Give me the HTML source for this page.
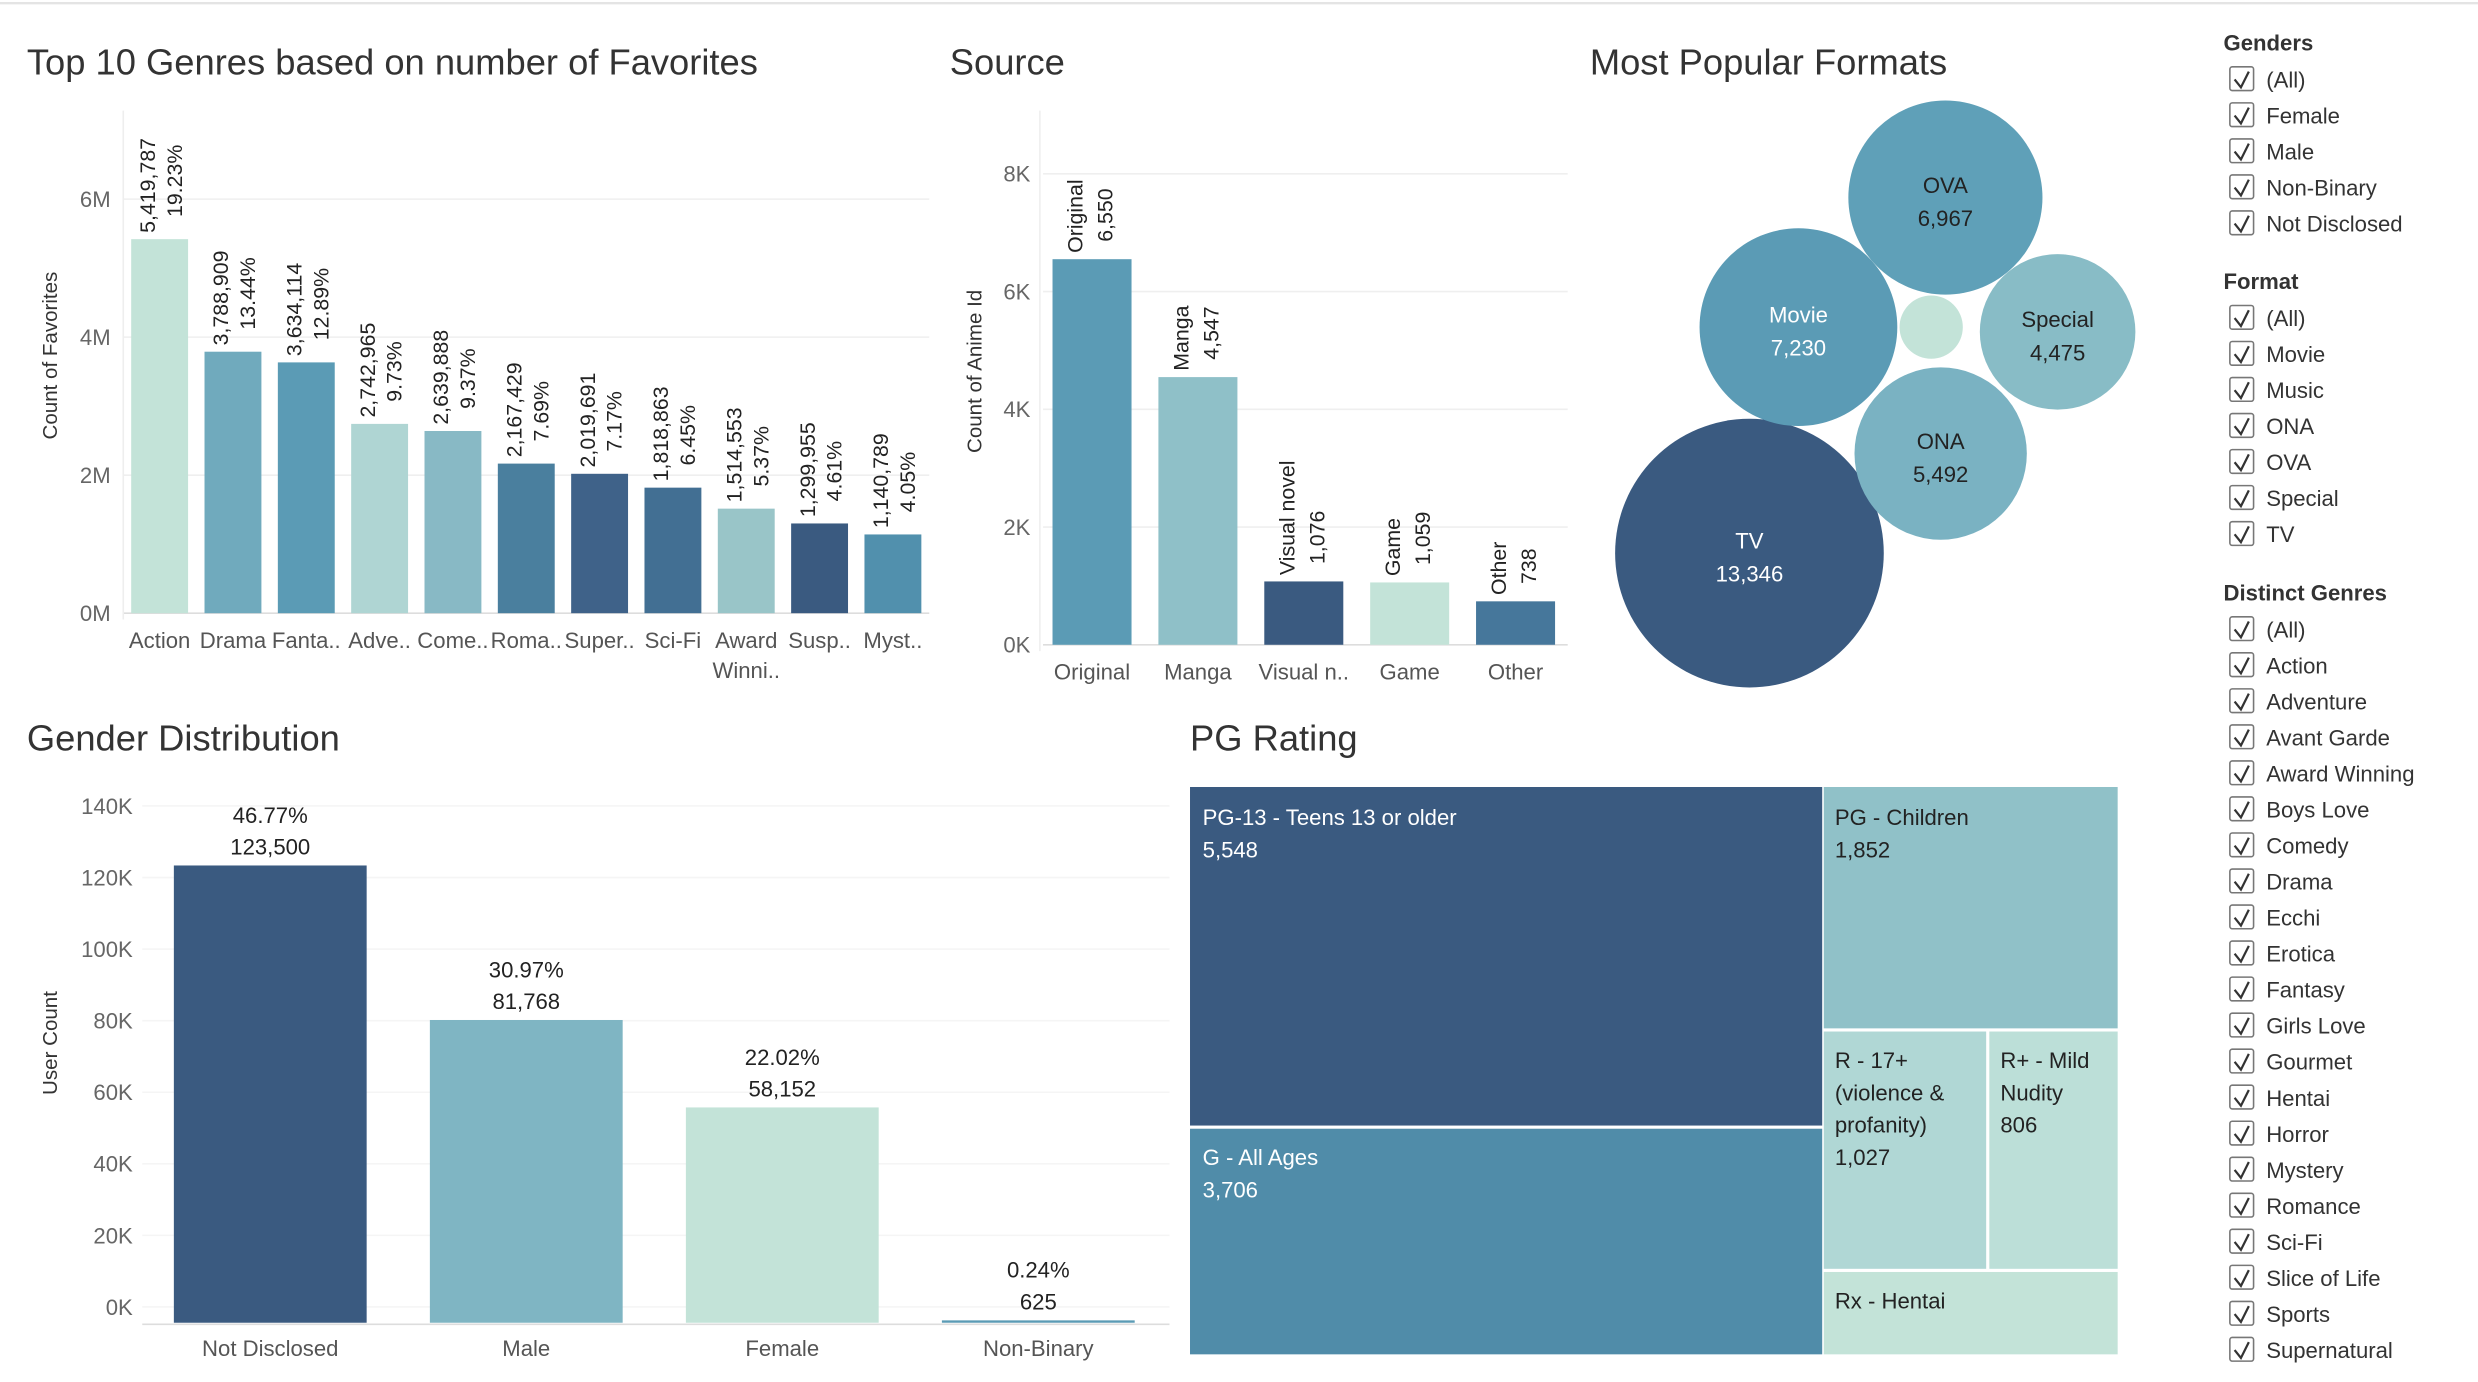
<!DOCTYPE html>
<html><head><meta charset="utf-8"><style>
html,body{margin:0;padding:0;background:#fff;width:2478px;height:1382px;overflow:hidden}
svg{display:block;font-family:"Liberation Sans",sans-serif}
</style></head><body>
<svg id="s" width="2478" height="1382" viewBox="0 0 1568 874.5" xmlns="http://www.w3.org/2000/svg">
<line x1="0" y1="2" x2="1568" y2="2" stroke="#e4e4e4" stroke-width="1.5"/>
<text x="17" y="47" font-size="23" fill="#333">Top 10 Genres based on number of Favorites</text>
<text x="601" y="47" font-size="23" fill="#333">Source</text>
<text x="1006" y="47" font-size="23" fill="#333">Most Popular Formats</text>
<text x="17" y="475" font-size="23" fill="#333">Gender Distribution</text>
<text x="753" y="475" font-size="23" fill="#333">PG Rating</text>
<g id="g"></g>
</svg>
<script>
// ---- data ----
const genreCats=["Action","Drama","Fanta..","Adve..","Come..","Roma..","Super..","Sci-Fi","Award|Winni..","Susp..","Myst.."];
const genreVals=[5419787,3788909,3634114,2742965,2639888,2167429,2019691,1818863,1514553,1299955,1140789];
const genrePcts=["19.23%","13.44%","12.89%","9.73%","9.37%","7.69%","7.17%","6.45%","5.37%","4.61%","4.05%"];
const genreTicks=[0,2000000,4000000,6000000];
const genreTickLabels=["0M","2M","4M","6M"];
const srcCats=["Original","Manga","Visual novel","Game","Other"];
const srcAxisLabels=["Original","Manga","Visual n..","Game","Other"];
const srcVals=[6550,4547,1076,1059,738];
const srcTicks=[0,2000,4000,6000,8000];
const srcTickLabels=["0K","2K","4K","6K","8K"];
const fmtCats=["TV","Movie","OVA","ONA","Special","Music"];
const fmtVals=[13346,7230,6967,5492,4475,740];
const genderCats=["Not Disclosed","Male","Female","Non-Binary"];
const genderVals=[123500,81768,58152,625];
const genderPcts=["46.77%","30.97%","22.02%","0.24%"];
const genderTicks=[0,20000,40000,60000,80000,100000,120000,140000];
const genderTickLabels=["0K","20K","40K","60K","80K","100K","120K","140K"];
const pgCats=["PG-13 - Teens 13 or older","G - All Ages","PG - Children","R - 17+ (violence & profanity)","R+ - Mild Nudity","Rx - Hentai"];
const pgVals=[5548,3706,1852,1027,806,640];
const genderFilters=["(All)","Female","Male","Non-Binary","Not Disclosed"];
const formatFilters=["(All)","Movie","Music","ONA","OVA","Special","TV"];
const genreFilters=["(All)","Action","Adventure","Avant Garde","Award Winning","Boys Love","Comedy","Drama","Ecchi","Erotica","Fantasy","Girls Love","Gourmet","Hentai","Horror","Mystery","Romance","Sci-Fi","Slice of Life","Sports","Supernatural"];

const NS="http://www.w3.org/2000/svg";const G=document.getElementById('g');
function el(t,a,txt,p){const e=document.createElementNS(NS,t);for(const k in a)e.setAttribute(k,a[k]);if(txt!=null)e.textContent=txt;(p||G).appendChild(e);return e;}
const fmt=n=>n.toLocaleString('en-US');

// ---- genres chart ----
{const y0=388,yTop=126,vTop=6000000;const y=v=>y0-(v/vTop)*(y0-yTop);
 const x0=80,step=46.4,bw=36;
 const cols=["#c3e3d8","#70aabd","#5b9bb5","#afd5d3","#88b9c5","#4a7f9e","#3f6289","#426f93","#99c5c8","#3a5a80","#5190ad"];
 genreTicks.forEach((t,i)=>{const l=el('line',{x1:78,x2:588,y1:y(t),y2:y(t),stroke:i?"#efefef":"#ddd"});
  const tx=el('text',{x:70,y:y(t)+5,'text-anchor':'end','font-size':14,fill:'#666'},genreTickLabels[i]);});
 el('line',{x1:78,x2:78,y1:70,y2:392,stroke:'#eee'});
 const at=el('text',{transform:'translate(36,225) rotate(-90)','text-anchor':'middle','font-size':13,fill:'#333'},'Count of Favorites');
 genreVals.forEach((v,i)=>{const cx=x0+step*i+bw/2+3;
  const r=el('rect',{x:cx-bw/2,y:y(v),width:bw,height:y0-y(v),fill:cols[i]});
  const t1=el('text',{transform:`translate(${cx-3},${y(v)-4}) rotate(-90)`,'font-size':13.5,fill:'#222'},fmt(v));
  const t2=el('text',{transform:`translate(${cx+14},${y(v)-14}) rotate(-90)`,'font-size':13.5,fill:'#222'},genrePcts[i]);
  genreCats[i].split('|').forEach((s,j)=>{const c=el('text',{x:cx,y:410+j*19,'text-anchor':'middle','font-size':14,fill:'#555'},s);});
 });}

// ---- source chart ----
{const y0=408,yTop=110,vTop=8000;const y=v=>y0-(v/vTop)*(y0-yTop);
 const x0=666,step=67,bw=50;const cols=["#5b9bb5","#8fc0c8","#3a5a80","#c3e3d8","#46779b"];
 srcTicks.forEach((t,i)=>{const l=el('line',{x1:660,x2:992,y1:y(t),y2:y(t),stroke:i?"#efefef":"#ddd"});
  const tx=el('text',{x:652,y:y(t)+5,'text-anchor':'end','font-size':14,fill:'#666'},srcTickLabels[i]);});
 el('line',{x1:658,x2:658,y1:70,y2:412,stroke:'#eee'});
 const at=el('text',{transform:'translate(621,235) rotate(-90)','text-anchor':'middle','font-size':13,fill:'#333'},'Count of Anime Id');
 srcVals.forEach((v,i)=>{const cx=x0+step*i+bw/2;
  const r=el('rect',{x:cx-bw/2,y:y(v),width:bw,height:y0-y(v),fill:cols[i]});
  const t1=el('text',{transform:`translate(${cx-6},${y(v)-4}) rotate(-90)`,'font-size':13.5,fill:'#222'},srcCats[i]);
  const t2=el('text',{transform:`translate(${cx+13},${y(v)-11}) rotate(-90)`,'font-size':13.5,fill:'#222'},fmt(v));
  const c=el('text',{x:cx,y:430,'text-anchor':'middle','font-size':14,fill:'#555'},srcAxisLabels[i]);
 });}

// ---- bubbles ----
{const k=85/Math.sqrt(13346);
 const centers=[[1107,350],[1138,207],[1231,125],[1228,287],[1302,210],[1222,207]];
 const cols=["#3a5a80","#5b9bb5","#5fa0b8","#7ab2c2","#88bcc6","#c3e3d8"];
 const tc=["#fff","#fff","#222","#222","#222","#222"];
 fmtVals.forEach((v,i)=>{const [cx,cy]=centers[i];const r=Math.sqrt(v)*k;
  const c=el('circle',{cx,cy,r,fill:cols[i]});
  if(i<5){const a=el('text',{x:cx,y:cy-3,'text-anchor':'middle','font-size':14,fill:tc[i]},fmtCats[i]);
   const b=el('text',{x:cx,y:cy+18,'text-anchor':'middle','font-size':14,fill:tc[i]},fmt(v));}
 });}

// ---- gender chart ----
{const base=837,vTop=140000;const yy=v=>base-(v/vTop)*(base-509);
 const ly=v=>832-(v/vTop)*(827-510);
 const x0=110,step=162,bw=122;const cols=["#3a5a80","#7fb5c3","#c3e3d8","#5b9bb5"];
 genderTicks.forEach((t,i)=>{const l=el('line',{x1:90,x2:740,y1:ly(t)-5,y2:ly(t)-5,stroke:"#f5f5f5"});
  const tx=el('text',{x:84,y:ly(t),'text-anchor':'end','font-size':14,fill:'#666'},genderTickLabels[i]);});
 el('line',{x1:90,x2:740,y1:838,y2:838,stroke:'#ddd'});
 const at=el('text',{transform:'translate(36,660) rotate(-90)','text-anchor':'middle','font-size':13,fill:'#333'},'User Count');
 genderVals.forEach((v,i)=>{const cx=x0+step*i+bw/2;const top=Math.min(yy(v),base-1.5);
  const r=el('rect',{x:cx-bw/2,y:top,width:bw,height:base-top,fill:cols[i]});
  const a=el('text',{x:cx,y:top-27,'text-anchor':'middle','font-size':14,fill:'#222'},genderPcts[i]);
  const b=el('text',{x:cx,y:top-7,'text-anchor':'middle','font-size':14,fill:'#222'},fmt(v));
  const c=el('text',{x:cx,y:858,'text-anchor':'middle','font-size':14,fill:'#555'},genderCats[i]);
 });}

// ---- treemap ----
{const X=753,Y=498,W=587,H=359,gap=2;const tot=pgVals.reduce((a,b)=>a+b,0);
 const lw=W*(pgVals[0]+pgVals[1])/tot;const lh0=H*pgVals[0]/(pgVals[0]+pgVals[1]);
 const rw=W-lw;const rTot=tot-pgVals[0]-pgVals[1];
 const ph=H*pgVals[2]/rTot;const rowH=H*(pgVals[3]+pgVals[4])/rTot;const r3w=rw*pgVals[3]/(pgVals[3]+pgVals[4]);
 const rects=[[X,Y,lw,lh0],[X,Y+lh0,lw,H-lh0],[X+lw,Y,rw,ph],[X+lw,Y+ph,r3w,rowH],[X+lw+r3w,Y+ph,rw-r3w,rowH],[X+lw,Y+ph+rowH,rw,H-ph-rowH]];
 const cols=["#3a5a80","#508ca9","#90c1c8","#b0d7d5","#bcdfd8","#c3e3d8"];
 const tc=["#fff","#fff","#222","#222","#222","#222"];
 const lines=[["PG-13 - Teens 13 or older"],["G - All Ages"],["PG - Children"],["R - 17+","(violence &","profanity)"],["R+ - Mild","Nudity"],["Rx - Hentai"]];
 rects.forEach((r,i)=>{const [x,y,w,h]=r;
  const e=el('rect',{x:x+(i>1?gap/2:0),y:y+(y>Y?gap/2:0),width:w-(i>1?gap/2:0)-(i==3?gap/2:0),height:h-(y>Y?gap/2:0)-(y+h<Y+H-1?gap/2:0),fill:cols[i]});
  const ls=lines[i].slice();if(i<5)ls.push(fmt(pgVals[i]));
  ls.forEach((s,j)=>{const t=el('text',{x:x+8,y:y+24+j*20.5,'font-size':14,fill:tc[i]},s);});
 });}

// ---- filters ----
function filt(title,items,y0,name){const h=el('text',{x:1407,y:y0,'font-size':14,'font-weight':'bold',fill:'#333'},title);
 items.forEach((s,i)=>{const y=y0+22.3+i*22.8;
  const b=el('rect',{x:1411,y:y-12,width:15,height:15,fill:'#fff',stroke:'#777','stroke-width':1,rx:1.5});
  el('path',{d:`M${1414} ${y-4} L${1418} ${y+1} L${1423} ${y-9}`,fill:'none',stroke:'#333','stroke-width':1.4});
  const t=el('text',{x:1434,y:y+1,'font-size':14,fill:'#333'},s);});}
filt("Genders",genderFilters,32,'gender');
filt("Format",formatFilters,183,'format');
filt("Distinct Genres",genreFilters,380,'genre');
</script>
</body></html>
